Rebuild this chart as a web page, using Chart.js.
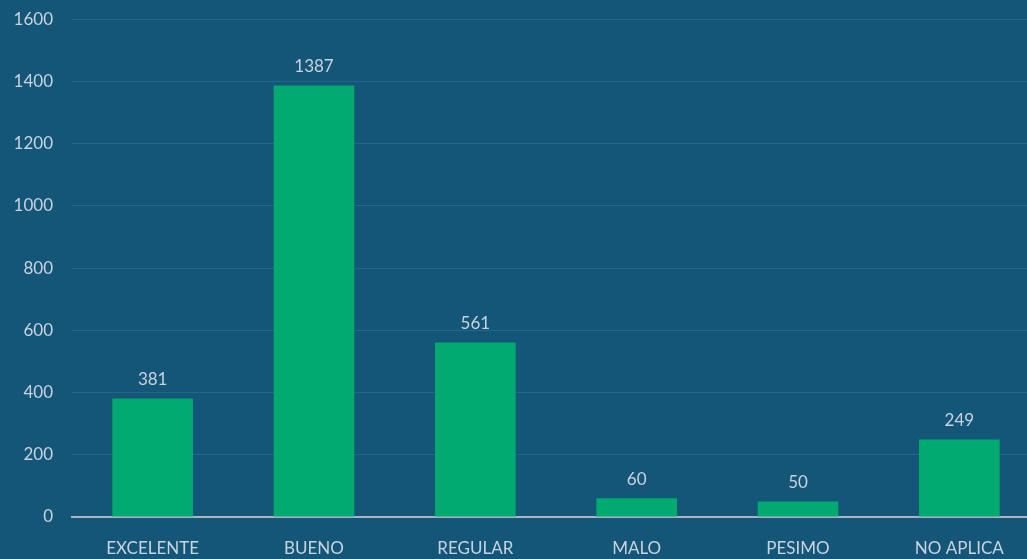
<!DOCTYPE html>
<html>
<head>
<meta charset="utf-8">
<script src="https://cdn.jsdelivr.net/npm/chart.js@4.4.1/dist/chart.umd.min.js"></script>
<style>
  html, body { margin: 0; padding: 0; background: #145677; overflow: hidden; }
  #wrap { width: 1040px; height: 569px; position: relative; margin-top: -10px; }
</style>
</head>
<body>
<div id="wrap"><canvas id="grafico"></canvas></div>
<script>
const categorias = ['EXCELENTE', 'BUENO', 'REGULAR', 'MALO', 'PESIMO', 'NO APLICA'];
const valores = [381, 1387, 561, 60, 50, 249];
const ticksY = [0, 200, 400, 600, 800, 1000, 1200, 1400, 1600];

const colorTexto = '#c9d3e0';
const fuente = 'Lato, "Open Sans", sans-serif';

// etiquetas encima de cada barra
const etiquetasValor = {
    id: 'etiquetasValor',
    afterDatasetsDraw(chart) {
        const ctx = chart.ctx;
        const meta = chart.getDatasetMeta(0);
        ctx.save();
        ctx.fillStyle = colorTexto;
        ctx.font = '17px ' + fuente;
        ctx.textAlign = 'center';
        ctx.textBaseline = 'middle';
        meta.data.forEach((barra, i) => {
            ctx.fillText(valores[i], barra.x, barra.y - 19);
        });
        ctx.restore();
    }
};

const ctx = document.getElementById('grafico');

const grafico = new Chart(ctx, {
    type: 'bar',
    data: {
        labels: categorias,
        datasets: [{
            data: valores,
            backgroundColor: '#00aa70',
            borderWidth: 0,
            barPercentage: 0.5,
            categoryPercentage: 1
        }]
    },
    options: {
        responsive: true,
        maintainAspectRatio: false,
        animation: false,
        layout: { padding: { top: 0, left: 0, right: 0, bottom: 0 } },
        plugins: {
            legend: { display: false },
            tooltip: { enabled: false }
        },
        scales: {
            x: {
                grid: { display: false, drawTicks: false },
                border: { color: '#a9b4c0', width: 2 },
                afterFit(scale) { scale.height = 42; },
                ticks: {
                    color: colorTexto,
                    padding: 21,
                    maxRotation: 0,
                    font: { family: fuente, size: 17 }
                }
            },
            y: {
                min: 0,
                max: 1600,
                grid: { color: '#25678a', lineWidth: 1, drawTicks: false },
                border: { display: false },
                afterFit(scale) { scale.width = 72; },
                afterBuildTicks(scale) { scale.ticks = ticksY.map(v => ({ value: v })); },
                ticks: {
                    color: colorTexto,
                    padding: 19,
                    callback: v => v,
                    font: { family: fuente, size: 17 }
                }
            }
        }
    },
    plugins: [etiquetasValor]
});
</script>
</body>
</html>
